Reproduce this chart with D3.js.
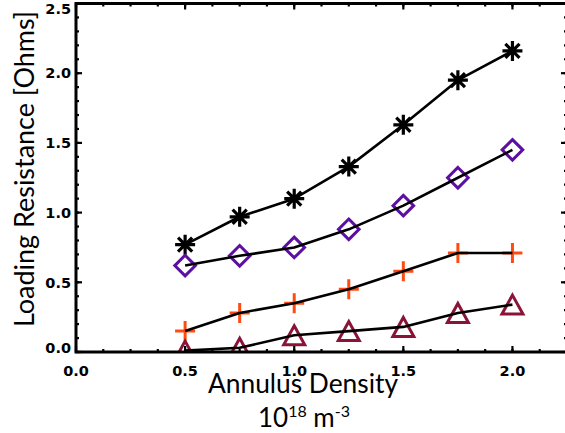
<!DOCTYPE html>
<html>
<head>
<meta charset="utf-8">
<script src="https://cdn.jsdelivr.net/npm/d3@7"></script>
<style>
  html, body { margin: 0; padding: 0; background: #fff; }
  svg { display: block; }
</style>
</head>
<body>
<div id="chart"></div>
<script>
// Annulus density (10^18 m^-3) at which loading resistance was measured
const density = [0.5, 0.75, 1.0, 1.25, 1.5, 1.75, 2.0];

// Loading resistance [Ohms], one series per marker style
const seriesAsterisk = [0.77, 0.97, 1.10, 1.33, 1.63, 1.95, 2.16];
const seriesDiamond  = [0.62, 0.69, 0.75, 0.88, 1.05, 1.25, 1.45];
const seriesPlus     = [0.15, 0.28, 0.35, 0.45, 0.58, 0.71, 0.71];
const seriesTriangle = [0.01, 0.03, 0.12, 0.15, 0.18, 0.28, 0.34];

const xTickValues = [0.0, 0.5, 1.0, 1.5, 2.0];
const yTickValues = [0.0, 0.5, 1.0, 1.5, 2.0, 2.5];

const W = 565, H = 433;
const plotLeft = 76, plotRight = 567, plotTop = 3.5, plotBottom = 352;

const x = d3.scaleLinear().domain([0, 2.25]).range([plotLeft, plotRight]);
const y = d3.scaleLinear().domain([0, 2.5]).range([plotBottom, plotTop]);

const svg = d3.select("#chart").append("svg")
  .attr("width", W).attr("height", H);

svg.append("defs").append("clipPath").attr("id", "plotClip")
  .append("rect").attr("x", plotLeft).attr("y", plotTop)
  .attr("width", plotRight - plotLeft).attr("height", plotBottom - plotTop);

const series = [
  { values: seriesAsterisk, shape: "asterisk", color: "#000000" },
  { values: seriesDiamond,  shape: "diamond",  color: "#5c0fa0" },
  { values: seriesPlus,     shape: "plus",     color: "#ff4a12" },
  { values: seriesTriangle, shape: "triangle", color: "#8a1438" }
];

// Marker path generators (centered on 0,0)
function markerPath(shape) {
  switch (shape) {
    case "asterisk": {
      const r = 10, d = r * Math.SQRT1_2;
      return `M${-r},0L${r},0M0,${-r}L0,${r}M${-d},${-d}L${d},${d}M${-d},${d}L${d},${-d}`;
    }
    case "diamond": {
      const r = 10.3;
      return `M0,${-r}L${r},0L0,${r}L${-r},0Z`;
    }
    case "plus": {
      const r = 10;
      return `M${-r},0L${r},0M0,${-r}L0,${r}`;
    }
    case "triangle": {
      const w = 10.5, h = 9.5;
      return `M0,${-h}L${w},${h}L${-w},${h}Z`;
    }
  }
}

const plot = svg.append("g").attr("clip-path", "url(#plotClip)");

// Markers first, connecting lines drawn over them
series.forEach(s => {
  plot.append("g").selectAll("path")
    .data(density.map((d, i) => [d, s.values[i]]))
    .join("path")
    .attr("transform", d => `translate(${x(d[0])},${y(d[1])})`)
    .attr("d", markerPath(s.shape))
    .attr("fill", "none")
    .attr("stroke", s.color)
    .attr("stroke-width", s.shape === "asterisk" ? 3.2 : 3)
    .attr("stroke-linejoin", "miter");
});

const line = d3.line().x(d => x(d[0])).y(d => y(d[1]));
series.forEach(s => {
  plot.append("path")
    .datum(density.map((d, i) => [d, s.values[i]]))
    .attr("d", line)
    .attr("fill", "none")
    .attr("stroke", "#000")
    .attr("stroke-width", 2.6)
    .attr("stroke-linejoin", "round");
});

// Axes with inward-pointing ticks on all four sides
const xMinor = d3.range(0, 2.2501, 0.125);
const yMinor = d3.range(0, 2.5001, 0.1);
const majLen = 6, minLen = 3;

const axes = svg.append("g").attr("stroke", "#000");
function ticks(g, vals, len, side) {
  vals.forEach(v => {
    if (side === "bottom") g.append("line").attr("x1", x(v)).attr("x2", x(v)).attr("y1", plotBottom).attr("y2", plotBottom - len);
    if (side === "top")    g.append("line").attr("x1", x(v)).attr("x2", x(v)).attr("y1", plotTop).attr("y2", plotTop + len);
    if (side === "left")   g.append("line").attr("y1", y(v)).attr("y2", y(v)).attr("x1", plotLeft).attr("x2", plotLeft + len);
    if (side === "right")  g.append("line").attr("y1", y(v)).attr("y2", y(v)).attr("x1", plotRight).attr("x2", plotRight - len);
  });
}
const tickG = axes.append("g").attr("stroke-width", 2.2);
["bottom", "top"].forEach(s => { ticks(tickG, xMinor, minLen, s); ticks(tickG, xTickValues, majLen, s); });
["left", "right"].forEach(s => { ticks(tickG, yMinor, minLen, s); ticks(tickG, yTickValues, majLen, s); });

axes.append("rect")
  .attr("x", plotLeft).attr("y", plotTop)
  .attr("width", plotRight - plotLeft).attr("height", plotBottom - plotTop)
  .attr("fill", "none").attr("stroke-width", 3);

// Tick labels
const tickFont = "'DejaVu Sans', sans-serif";
svg.append("g").selectAll("text")
  .data(xTickValues).join("text")
  .attr("x", d => x(d)).attr("y", 376)
  .attr("text-anchor", "middle")
  .attr("font-family", tickFont).attr("font-weight", "bold").attr("font-size", 14.5)
  .text(d => d.toFixed(1));

svg.append("g").selectAll("text")
  .data(yTickValues).join("text")
  .attr("x", 71)
  .attr("y", d => Math.min(Math.max(y(d), 9), 348))
  .attr("dy", "0.36em")
  .attr("text-anchor", "end")
  .attr("font-family", tickFont).attr("font-weight", "bold").attr("font-size", 14.5)
  .text(d => d.toFixed(1));

// Axis titles
const titleFont = "Lato, 'Open Sans', sans-serif";
svg.append("text")
  .attr("transform", "translate(34,169) rotate(-90)")
  .attr("text-anchor", "middle")
  .attr("font-family", titleFont).attr("font-weight", 400).attr("font-size", 26)
  .attr("textLength", 316).attr("lengthAdjust", "spacingAndGlyphs")
  .text("Loading Resistance  [Ohms]");

svg.append("text")
  .attr("x", 303).attr("y", 393)
  .attr("text-anchor", "middle")
  .attr("font-family", titleFont).attr("font-weight", 400).attr("font-size", 26)
  .attr("textLength", 190).attr("lengthAdjust", "spacingAndGlyphs")
  .text("Annulus Density");

const unit = svg.append("text")
  .attr("x", 304).attr("y", 427)
  .attr("text-anchor", "middle")
  .attr("font-family", titleFont).attr("font-weight", 400).attr("font-size", 26);
unit.append("tspan").text("10");
unit.append("tspan").attr("font-size", 16).attr("dy", -10).text("18");
unit.append("tspan").attr("dy", 10).text(" m");
unit.append("tspan").attr("font-size", 16).attr("dy", -10).text("-3");
</script>
</body>
</html>
